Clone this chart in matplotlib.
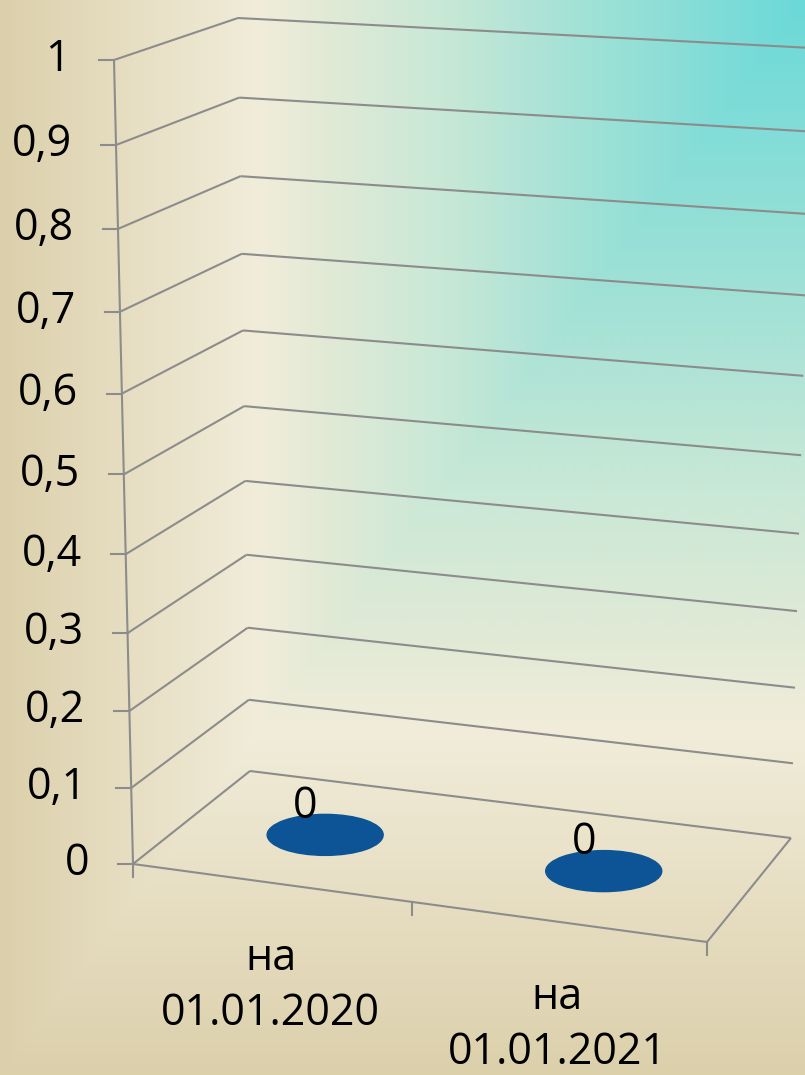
import numpy as np
import matplotlib.pyplot as plt
from matplotlib.patches import Ellipse, Rectangle

plt.rcParams['font.family'] = ['Open Sans', 'DejaVu Sans']

# данные
categories = ["на\n01.01.2020", "на\n01.01.2021"]
values = [0, 0]
y_ticks = [0, 0.1, 0.2, 0.3, 0.4, 0.5, 0.6, 0.7, 0.8, 0.9, 1.0]
y_max = 1.0

W, H = 805, 1075
GRID = "#8C8C8C"
BAR = "#0C5496"

# углы 3D-коробки в пикселях: (u, v, w) -> (x, y)
corners = {
    (0, 0, 0): (133, 864), (1, 0, 0): (707, 942),
    (0, 0, 1): (250, 771), (1, 0, 1): (791, 838),
    (0, 1, 0): (114, 60), (1, 1, 0): (735, 120),
    (0, 1, 1): (238, 18), (1, 1, 1): (812, 48),
}


def warp(t, a):
    # перспективное сжатие вдоль оси
    return a * t / (1 + (a - 1) * t)


def proj(u, v, w):
    u = warp(u, 0.946)
    v = warp(v / y_max, 0.94)
    x = y = 0.0
    for (i, j, k), (cx, cy) in corners.items():
        f = (u if i else 1 - u) * (v if j else 1 - v) * (w if k else 1 - w)
        x += f * cx
        y += f * cy
    return x, y


def line3d(ax, a, b, **kw):
    (x0, y0), (x1, y1) = proj(*a), proj(*b)
    ax.plot([x0, x1], [y0, y1], color=GRID, lw=1.5, solid_capstyle="butt", **kw)


fig = plt.figure(figsize=(W / 100, H / 100), dpi=100)
ax = fig.add_axes([0, 0, 1, 1])

# фон: прямоугольный градиент из правого верхнего угла
yy, xx = np.mgrid[0:H, 0:W]
t = np.maximum((W - xx) / W, yy / H)
pos = [0.0, 0.3, 0.45, 0.6, 0.68, 0.76, 1.0]
cols = [(106, 217, 216), (166, 226, 214), (200, 232, 214), (226, 234, 214),
        (241, 237, 218), (236, 229, 206), (220, 208, 171)]
img = np.dstack([np.interp(t, pos, [c[i] for c in cols]) for i in range(3)]) / 255
ax.imshow(img, extent=(0, W, H, 0), zorder=0)

# сетка на задней и боковой стенках
for v in y_ticks:
    line3d(ax, (0, v, 1), (1, v, 1))
    line3d(ax, (0, v, 0), (0, v, 1))

# пол
line3d(ax, (0, 0, 0), (1, 0, 0))
line3d(ax, (1, 0, 0), (1, 0, 1))

# ось значений
line3d(ax, (0, 0, 0), (0, 1, 0))
for v in y_ticks:
    x, y = proj(0, v, 0)
    ax.plot([x - 15, x], [y, y], color=GRID, lw=1.5)
    lab = "{:g}".format(v).replace(".", ",")
    ax.text(x - 44, y, lab, ha="right", va="center", fontsize=31, color="black")

# ось категорий
n = len(categories)
for i in range(n + 1):
    x, y = proj(i / n, 0, 0)
    ax.plot([x, x], [y, y + 13], color=GRID, lw=1.5)
for i, cat in enumerate(categories):
    x, y = proj((i + 0.5) / n, 0, 0)
    ax.text(x, y + 54, cat, ha="center", va="top", fontsize=31,
            linespacing=1.3, color="black")

# цилиндры
for i, val in enumerate(values):
    u = (i + 0.5) / n
    bx, by = proj(u, 0, 0.5)
    tx, ty = proj(u, val, 0.5)
    if val > 0:
        ax.add_patch(Rectangle((tx - 58, ty), 116, by - ty, color=BAR, zorder=3))
        ax.add_patch(Ellipse((bx, by), 116, 41, color=BAR, zorder=3))
    ax.add_patch(Ellipse((tx, ty), 116, 41, color=BAR, zorder=4))
    ax.text(tx - 20, ty - 28, "{:g}".format(val), ha="center", va="center",
            fontsize=31, color="black", zorder=5)

ax.set_xlim(0, W)
ax.set_ylim(H, 0)
ax.set_aspect("auto")
ax.axis("off")

fig.savefig("out.png", dpi=100)
